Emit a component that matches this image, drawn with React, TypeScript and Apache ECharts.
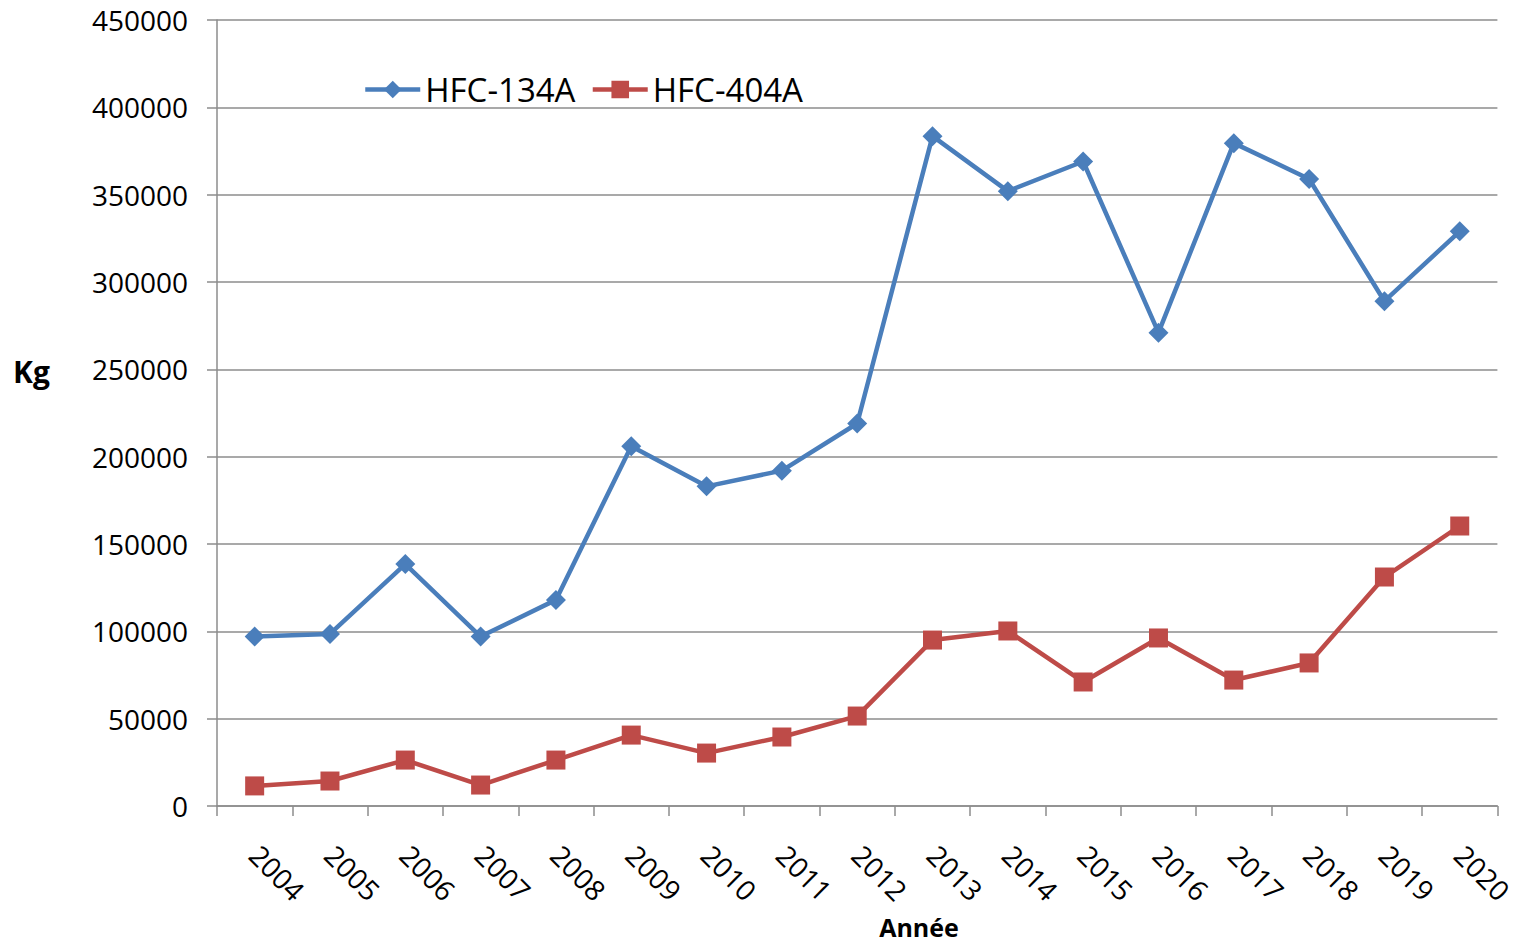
import React, { useEffect, useRef } from "react";
import * as echarts from "echarts";

const years = ["2004","2005","2006","2007","2008","2009","2010","2011","2012","2013","2014","2015","2016","2017","2018","2019","2020"];
const hfc134a = [97000, 98500, 138500, 97000, 118000, 206000, 183000, 192000, 219000, 383500, 352000, 369000, 271000, 379500, 359000, 289000, 329000];
const hfc404a = [11500, 14300, 26300, 12000, 26300, 40600, 30300, 39500, 51500, 95000, 100200, 71000, 96200, 72100, 81900, 131100, 160300];
const seriesNames = ["HFC-134A", "HFC-404A"];

const FONT = "'Open Sans', sans-serif";
const GRAY = "#8c8c8c";

export default function App() {
  const ref = useRef<HTMLDivElement>(null);
  useEffect(() => {
    if (!ref.current) return;
    const chart = echarts.init(ref.current, undefined, { renderer: "svg" });
    chart.setOption({
      animation: false,
      backgroundColor: "#ffffff",
      textStyle: { fontFamily: FONT },
      grid: { left: 217, right: 18, top: 20, bottom: 137, containLabel: false },
      legend: {
        left: 358,
        top: 68,
        itemWidth: 55,
        itemHeight: 22,
        itemGap: 15,
        lineStyle: { width: 4.5 },
        textStyle: { fontSize: 33, color: "#000", fontFamily: FONT },
        data: seriesNames,
      },
      xAxis: {
        type: "category",
        data: years,
        boundaryGap: true,
        axisLine: { show: true, lineStyle: { color: GRAY, width: 1.5 } },
        axisTick: { show: true, length: 10, lineStyle: { color: GRAY, width: 1.5 } },
        axisLabel: {
          rotate: -45,
          margin: 44,
          align: "left",
          verticalAlign: "middle",
          fontSize: 28,
          color: "#000",
          fontFamily: FONT,
          interval: 0,
        },
        splitLine: { show: false },
      },
      yAxis: {
        type: "value",
        min: 0,
        max: 450000,
        interval: 50000,
        axisLine: { show: true, lineStyle: { color: GRAY, width: 1.5 } },
        axisTick: { show: true, length: 10, lineStyle: { color: GRAY, width: 1.5 } },
        axisLabel: {
          margin: 29,
          fontSize: 28,
          color: "#000",
          fontFamily: FONT,
          formatter: (v: number) => String(v),
        },
        splitLine: { show: true, lineStyle: { color: GRAY, width: 1.5 } },
      },
      graphic: [
        {
          type: "text",
          left: 13,
          top: 356,
          style: { text: "Kg", font: `bold 30px ${FONT}`, fill: "#000" },
        },
        {
          type: "text",
          x: 919,
          y: 927,
          style: {
            text: "Année",
            font: `bold 25px ${FONT}`,
            fill: "#000",
            align: "center",
            verticalAlign: "middle",
            lineHeight: 26,
          },
        },
      ],
      series: [
        {
          name: seriesNames[0],
          type: "line",
          data: hfc134a,
          symbol: "diamond",
          symbolSize: 20,
          color: "#4A7EBB",
          lineStyle: { width: 4.5, color: "#4A7EBB" },
          itemStyle: { color: "#4A7EBB" },
        },
        {
          name: seriesNames[1],
          type: "line",
          data: hfc404a,
          symbol: "rect",
          symbolSize: 19,
          color: "#BE4B48",
          lineStyle: { width: 4.5, color: "#BE4B48" },
          itemStyle: { color: "#BE4B48" },
        },
      ],
    });
    return () => chart.dispose();
  }, []);
  return (
    <div
      ref={ref}
      style={{ position: "absolute", left: 0, top: 0, width: 1517, height: 943 }}
    />
  );
}
